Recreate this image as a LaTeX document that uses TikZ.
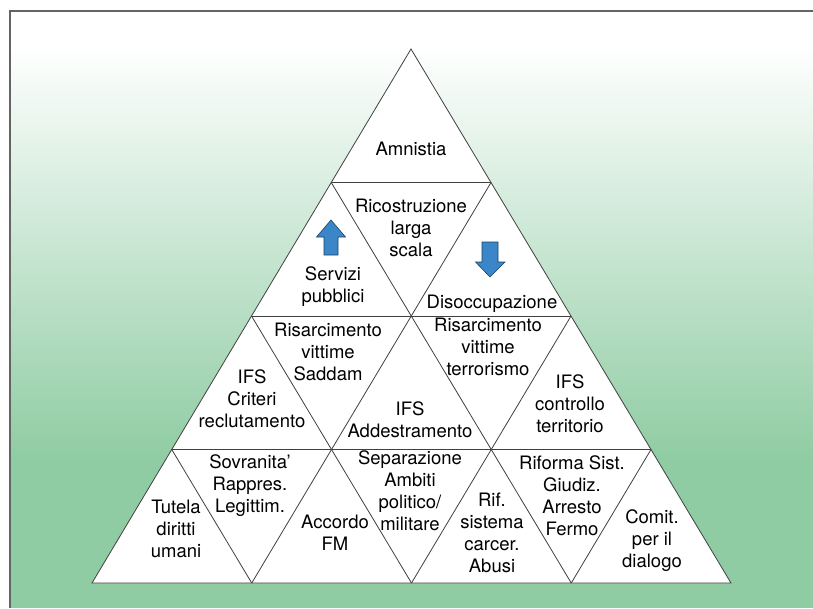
\documentclass[tikz,border=0pt]{standalone}
\usepackage{fontspec}
\setmainfont{TeX Gyre Heros}
\usepackage{xcolor}
\usepackage{tikz}
\usetikzlibrary{calc}
\definecolor{bggreen}{RGB}{143,204,163}
\definecolor{arrblue}{RGB}{58,134,200}
\definecolor{framegray}{RGB}{100,100,100}

\begin{document}
\begin{tikzpicture}[
  x=1pt, y=-1pt,
  lbl/.style = {align=center, anchor=base, inner sep=0pt,
                font=\fontsize{18.5}{22}\selectfont},
  tri/.style = {draw=black!75, line width=0.8pt},
  blk/.style = {fill=arrblue, draw=arrblue!50!black, line width=0.6pt},
]
  \useasboundingbox (0,0) rectangle (813,608);
  % background and frame
  \fill[white] (10,12) rectangle (813,45);
  \shade[top color=white, bottom color=bggreen] (10,45) rectangle (813,460);
  \fill[bggreen] (10,460) rectangle (813,608);
  \draw[framegray, line width=2pt] (10,608) -- (10,11) -- (813,11);

  % pyramid
  \coordinate (apex) at (411,49);
  \coordinate (bl)   at (92,583);
  \coordinate (br)   at (731,583);
  \coordinate (l1) at ($(apex)!0.25!(bl)$);
  \coordinate (l2) at ($(apex)!0.5!(bl)$);
  \coordinate (l3) at ($(apex)!0.75!(bl)$);
  \coordinate (r1) at ($(apex)!0.25!(br)$);
  \coordinate (r2) at ($(apex)!0.5!(br)$);
  \coordinate (r3) at ($(apex)!0.75!(br)$);
  \coordinate (b1) at ($(bl)!0.25!(br)$);
  \coordinate (b2) at ($(bl)!0.5!(br)$);
  \coordinate (b3) at ($(bl)!0.75!(br)$);
  \fill[white] (apex) -- (bl) -- (br) -- cycle;
  \draw[tri] (l1) -- (r1);
  \draw[tri] (l2) -- (r2);
  \draw[tri] (l3) -- (r3);
  \draw[tri] (l1) -- (b3);
  \draw[tri] (l2) -- (b2);
  \draw[tri] (l3) -- (b1);
  \draw[tri] (r1) -- (b1);
  \draw[tri] (r2) -- (b2);
  \draw[tri] (r3) -- (b3);
  \draw[tri, line join=miter] (apex) -- (bl) -- (br) -- cycle;

  % blue arrows
  \draw[blk] (331,220) -- (345.5,237) -- (338,237) -- (338,255)
    -- (324,255) -- (324,237) -- (316.5,237) -- cycle;
  \draw[blk] (490,277) -- (505,262) -- (498,262) -- (498,242)
    -- (482,242) -- (482,262) -- (475.5,262) -- cycle;

  % row 1 (base = last line)
  \node[lbl] (amn) at (411,155) {Amnistia};
  % row 2
  \node[lbl] (ric) at (411,256) {Ricostruzione\\larga\\scala};
  \node[lbl] (ser) at (333,302) {Servizi\\pubblici};
  \node[lbl] (dis) at (492,308) {Disoccupazione};
  % row 3
  \node[lbl] (ifc) at (252,427) {IFS\\Criteri\\reclutamento};
  \node[lbl] (rsa) at (328,380) {Risarcimento\\vittime\\Saddam};
  \node[lbl] (ifa) at (410,437) {IFS\\Addestramento};
  \node[lbl] (rte) at (488,375) {Risarcimento\\vittime\\terrorismo};
  \node[lbl] (ift) at (570,432) {IFS\\controllo\\territorio};
  % row 4
  \node[lbl] (tut) at (176,557) {Tutela\\diritti\\umani};
  \node[lbl] (sov) at (250,512) {Sovranita'\\Rappres.\\Legittim.};
  \node[lbl] (acc) at (335,550) {Accordo\\FM};
  \node[lbl] (sep) at (410,530) {Separazione\\Ambiti\\politico/\\militare};
  \node[lbl] (rif) at (492,572) {Rif.\\sistema\\carcer.\\Abusi};
  \node[lbl] (rsg) at (572,535) {Riforma Sist.\\Giudiz.\\Arresto\\Fermo};
  \node[lbl] (com) at (652,567) {Comit.\\per il\\dialogo};
\end{tikzpicture}
\end{document}
